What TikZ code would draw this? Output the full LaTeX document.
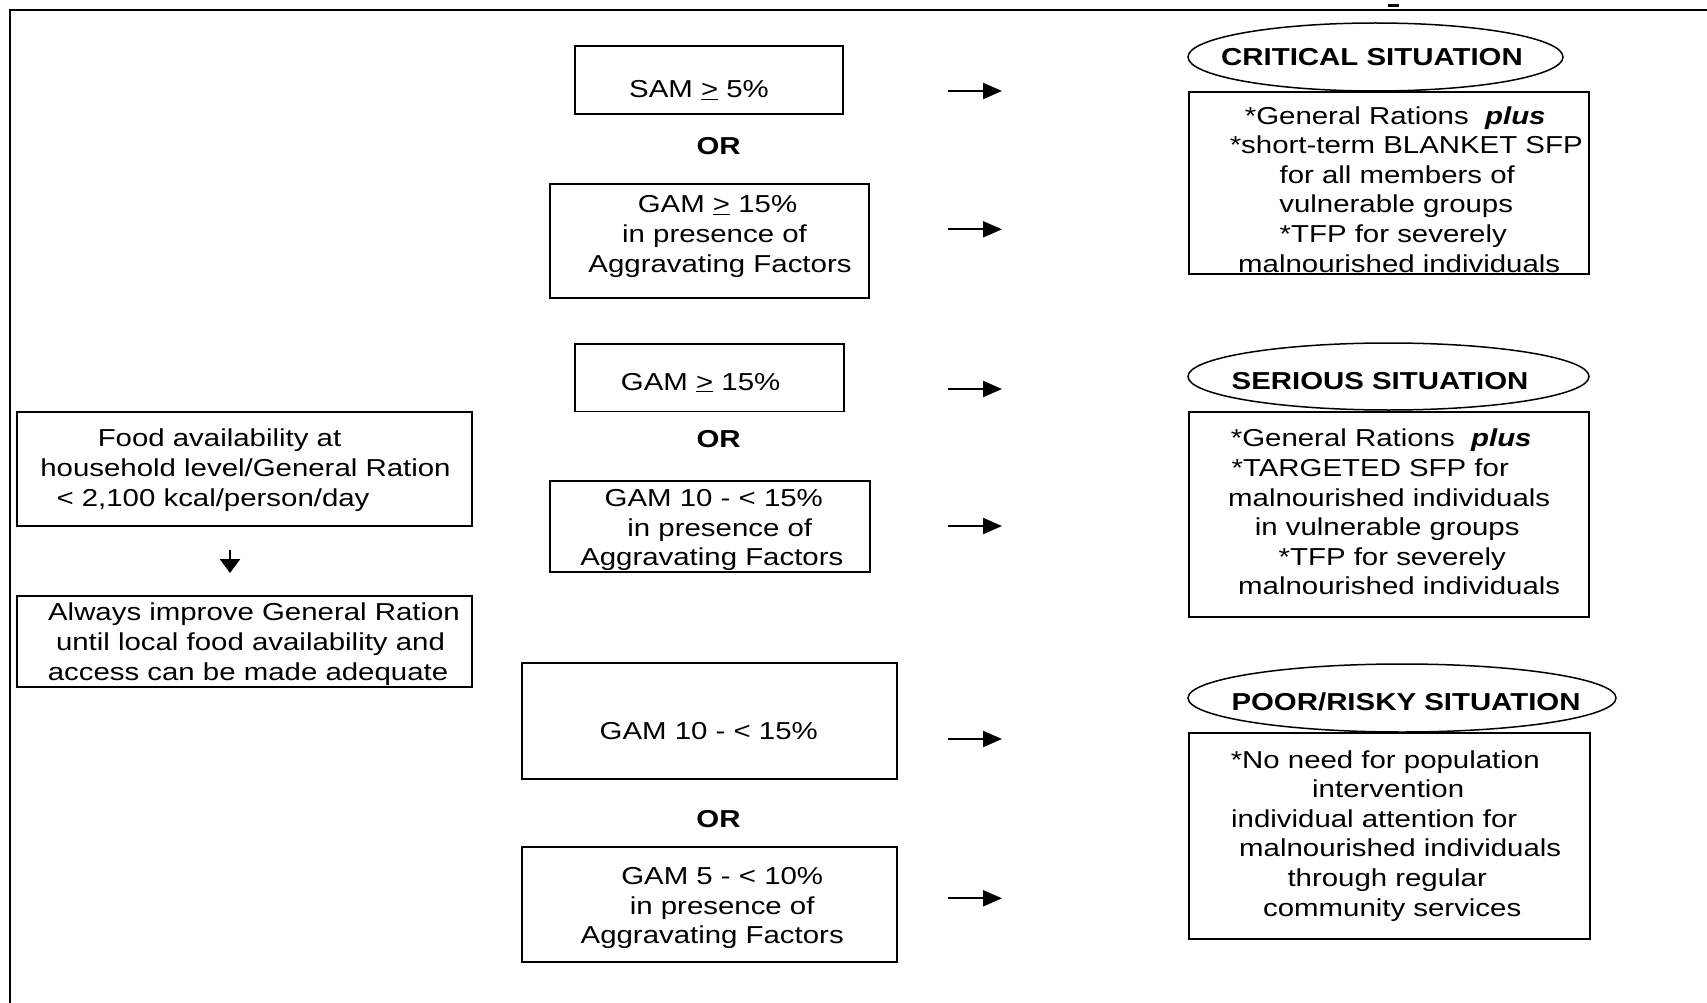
\documentclass[tikz,border=0pt]{standalone}
\usepackage{fontspec}
\setmainfont{Liberation Sans}[FakeStretch=1.2]
\usetikzlibrary{shapes.geometric,arrows.meta}
\newcommand\fs{\fontsize{24.5}{29.6}\selectfont}
\newcommand\sh[2]{\kern#1pt\relax#2\kern-#1pt\relax}
\begin{document}
\begin{tikzpicture}[x=1pt,y=-1pt,
  box/.style={draw,line width=1.8pt,inner sep=0pt},
  txt/.style={inner sep=0pt,anchor=north,align=center,font=\fs,execute at begin node=\strut},
  mtxt/.style={txt,yshift=-2.5pt},
  ttl/.style={txt,font=\fs\bfseries},
  oval/.style={draw,ellipse,line width=1.5pt,inner sep=0pt},
  arr/.style={line width=2pt,-{Triangle[length=19pt,width=16pt]}},
  darr/.style={line width=2.5pt,-{Triangle[length=14pt,width=20pt]}}]

\useasboundingbox (0,0) rectangle (1707,1003);
\fill[white] (0,0) rectangle (1707,1003);

% frame
\draw[line width=2pt] (10,1003) -- (10,10) -- (1707,10);
\draw[line width=2.5pt] (1388,5.5) -- (1399,5.5);

% middle column boxes
\node[box,minimum width=268pt,minimum height=68.3pt] (sam) at (709,79.85) {};
\node[txt] (samT) at (699,76.4) {SAM \underline{>} 5\%};
\node[ttl] (or1) at (718.6,133.7) {OR};

\node[box,minimum width=319pt,minimum height=113.7pt] (gamA) at (709.5,240.85) {};
\node[mtxt] (gamAT) at (709.5,193) {\sh{8}{GAM \underline{>} 15\%}\\ \sh{5}{in presence of}\\ \sh{10.5}{Aggravating Factors}};

\node[box,minimum width=269pt,minimum height=67.5pt] (gamB) at (709.3,377.75) {};
\node[txt] (gamBT) at (700.6,369.2) {GAM \underline{>} 15\%};
\node[ttl] (or2) at (718.6,426.7) {OR};

\node[box,minimum width=320pt,minimum height=90.4pt] (gamC) at (709.85,526.4) {};
\node[mtxt] (gamCT) at (709.8,486.7) {\sh{4}{GAM 10 - < 15\%}\\ \sh{10}{in presence of}\\ \sh{2}{Aggravating Factors}};

\node[box,minimum width=375pt,minimum height=116pt] (gamD) at (709.2,721.3) {};
\node[txt] (gamDT) at (708.7,718.7) {GAM 10 - < 15\%};
\node[ttl] (or3) at (718.5,807) {OR};

\node[box,minimum width=375pt,minimum height=114.4pt] (gamE) at (709.2,904.5) {};
\node[mtxt] (gamET) at (709.2,864.7) {\sh{13}{GAM 5 - < 10\%}\\ \sh{13}{in presence of}\\ \sh{3}{Aggravating Factors}};

% left column
\node[box,minimum width=455pt,minimum height=114pt] (food) at (244.5,469) {};
\node[mtxt] (foodT) at (244.5,426.4) {\sh{-25}{Food availability at}\\ \sh{1}{household level/General Ration}\\ \sh{-31.5}{< 2,100 kcal/person/day}};

\node[box,minimum width=455pt,minimum height=91.3pt] (always) at (244.5,641.65) {};
\node[mtxt] (alwaysT) at (244.5,600.4) {\sh{9.5}{Always improve General Ration}\\ \sh{6}{until local food availability and}\\ \sh{3.5}{access can be made adequate}};

\coordinate (d1) at (230,550);
\coordinate (d2) at (230,573);
\draw[darr] (d1) -- (d2);

% right column
\node[oval,minimum width=375pt,minimum height=68pt] (crit) at (1375.5,57) {};
\node[ttl] (critL) at (1372,44.7) {CRITICAL SITUATION};
\node[box,minimum width=400pt,minimum height=182pt] (critB) at (1389,183) {};
\node[mtxt] (critT) at (1389.2,103.7) {\sh{6}{*General Rations\ \ \textbf{\textit{plus}}}\\ \sh{17}{*short-term BLANKET SFP}\\ \sh{8}{for all members of}\\ \sh{7}{vulnerable groups}\\ \sh{4}{*TFP for severely}\\ \sh{10}{malnourished individuals}};

\node[oval,minimum width=401pt,minimum height=67pt] (ser) at (1388.5,376.5) {};
\node[ttl] (serL) at (1380,368.7) {SERIOUS SITUATION};
\node[box,minimum width=400pt,minimum height=205pt] (serB) at (1389,514.5) {};
\node[mtxt] (serT) at (1389.2,426.4) {\sh{-8}{*General Rations\ \ \textbf{\textit{plus}}}\\ \sh{-19}{*TARGETED SFP for}\\ \sh{0}{malnourished individuals}\\ \sh{-2}{in vulnerable groups}\\ \sh{3}{*TFP for severely}\\ \sh{10}{malnourished individuals}};

\node[oval,minimum width=428pt,minimum height=68pt] (poor) at (1402,698) {};
\node[ttl] (poorL) at (1406,689.7) {POOR/RISKY SITUATION};
\node[box,minimum width=401pt,minimum height=206pt] (poorB) at (1389.5,836) {};
\node[mtxt] (poorT) at (1389.2,747.7) {\sh{-4}{*No need for population}\\ \sh{-1}{intervention}\\ \sh{-15}{individual attention for}\\ \sh{11}{malnourished individuals}\\ \sh{-2}{through regular}\\ \sh{3}{community services}};

% arrows
\foreach \n/\yy in {1/91,2/229.3,3/389,4/526,5/739,6/898.3}{
  \coordinate (as\n) at (948,\yy);
  \coordinate (ae\n) at (1002,\yy);
  \draw[arr] (as\n) -- (ae\n);
}
\end{tikzpicture}
\end{document}
